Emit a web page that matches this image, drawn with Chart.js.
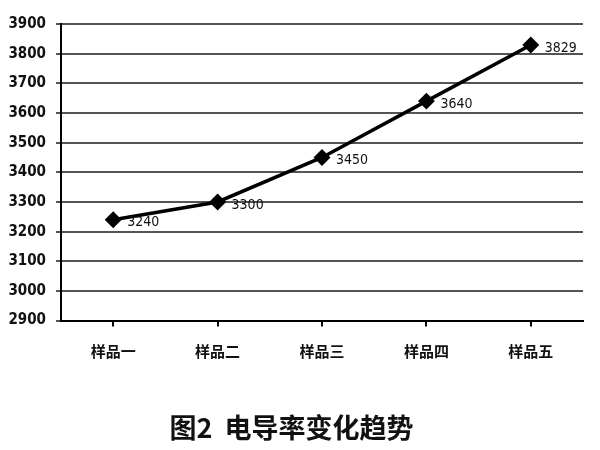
<!DOCTYPE html>
<html lang="zh">
<head>
  <meta charset="UTF-8" />
  <title>电导率变化趋势</title>
  <script src="https://cdn.jsdelivr.net/npm/chart.js"></script>
  <style>
    html, body { margin: 0; padding: 0; background: #fff; }
    #wrap { width: 600px; height: 450px; }
  </style>
</head>
<body>
  <div id="wrap"><canvas id="chart" width="600" height="450"></canvas></div>
  <script>
    // data
    const categories = ['样品一', '样品二', '样品三', '样品四', '样品五'];
    const conductivity = [3240, 3300, 3450, 3640, 3829];
    const yMin = 2900;
    const yMax = 3900;
    const yStep = 100;
    const titleText = '图2  电导率变化趋势';

    const numFont = "'DejaVu Sans Condensed', 'DejaVu Sans', sans-serif";
    const cjkFont = "'Noto Sans CJK SC', sans-serif";

    // value labels to the right of each point
    const valueLabels = {
      id: 'valueLabels',
      afterDatasetsDraw(chart) {
        const ctx = chart.ctx;
        const meta = chart.getDatasetMeta(0);
        ctx.save();
        ctx.fillStyle = '#111';
        ctx.font = '14px ' + numFont;
        ctx.textAlign = 'left';
        ctx.textBaseline = 'middle';
        meta.data.forEach((pt, i) => {
          ctx.fillText(String(conductivity[i]), pt.x + 14, pt.y + 3);
        });
        ctx.restore();
      }
    };

    new Chart(document.getElementById('chart'), {
      type: 'line',
      data: {
        labels: categories,
        datasets: [{
          data: conductivity,
          borderColor: '#000',
          backgroundColor: '#000',
          borderWidth: 3.5,
          tension: 0,
          pointStyle: 'rectRot',
          pointRadius: 6,
          pointHoverRadius: 6,
          fill: false
        }]
      },
      options: {
        responsive: false,
        animation: false,
        layout: { padding: { top: 24, right: 17, left: 0, bottom: 0 } },
        plugins: {
          legend: { display: false },
          tooltip: { enabled: false },
          title: {
            display: true,
            text: titleText,
            position: 'bottom',
            color: '#111',
            font: { family: cjkFont, size: 27, weight: 'bold', lineHeight: 1.2 },
            padding: { top: 31, bottom: 6 }
          }
        },
        scales: {
          x: {
            offset: true,
            afterFit(scale) { scale.height = 60; },
            grid: { drawOnChartArea: false, drawTicks: true, tickLength: 6, color: '#000', lineWidth: 2 },
            border: { color: '#000', width: 2 },
            ticks: {
              color: '#111',
              padding: 16,
              font: { family: cjkFont, size: 15, weight: 'bold' }
            }
          },
          y: {
            min: yMin,
            max: yMax,
            afterFit(scale) { scale.width = 61; },
            grid: { color: '#555', lineWidth: 2, drawTicks: true, tickLength: 5 },
            border: { color: '#000', width: 2 },
            ticks: {
              stepSize: yStep,
              color: '#111',
              padding: 10,
              font: { family: numFont, size: 15, weight: 'bold' },
              callback: (v) => String(v)
            }
          }
        }
      },
      plugins: [valueLabels]
    });
  </script>
</body>
</html>
